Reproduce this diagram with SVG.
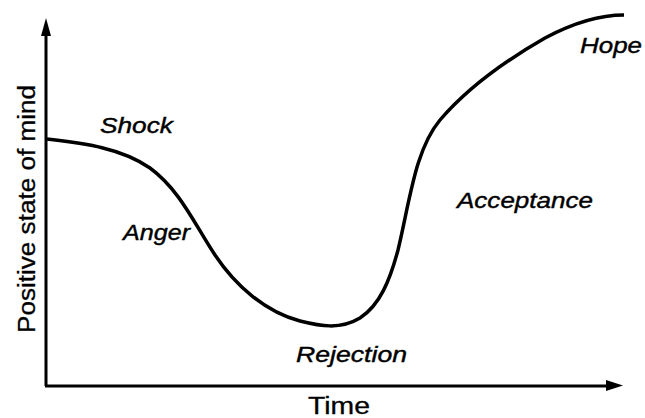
<svg xmlns="http://www.w3.org/2000/svg" width="645" height="418" viewBox="0 0 645 418">
<style>
.lbl{font-family:"Liberation Sans",Arial,sans-serif;font-style:italic;fill:#000;stroke:#000;stroke-width:0.4;font-size:22px}
.ax{font-family:"Liberation Sans",Arial,sans-serif;fill:#000;stroke:#000;stroke-width:0.3;font-size:23px}
</style>
<rect width="645" height="418" fill="#fff"/>
<g id="connectors">
<path d="M46,386 V32" stroke="#000" stroke-width="3" fill="none"/>
<path d="M46,18 L51,36 L41,36 Z" fill="#000"/>
<path d="M45,386 H608" stroke="#000" stroke-width="3" fill="none"/>
<path d="M623,385.5 L606,380 L606,391 Z" fill="#000"/>
<path id="curve" d="M47,139 C80,143 120,147 150,168 C180,190 195,225 215,255 C235,285 265,312 300,321 C320,326 340,330 360,318 C380,305 390,280 398,250 C410,200 415,150 440,120 C470,85 510,58 545,38 C575,22 600,15 624,15" stroke="#000" stroke-width="3.5" fill="none"/>
</g>
<g id="axis-y"><text class="ax" transform="translate(35,333) rotate(-90)" textLength="248" lengthAdjust="spacingAndGlyphs">Positive state of mind</text></g>
<g id="axis-x"><text class="ax" x="308" y="414" textLength="62" lengthAdjust="spacingAndGlyphs">Time</text></g>
<g id="shock"><text class="lbl" x="100" y="133" textLength="73" lengthAdjust="spacingAndGlyphs">Shock</text></g>
<g id="anger"><text class="lbl" x="123" y="240" textLength="67" lengthAdjust="spacingAndGlyphs">Anger</text></g>
<g id="rejection"><text class="lbl" x="296" y="362" textLength="111" lengthAdjust="spacingAndGlyphs">Rejection</text></g>
<g id="acceptance"><text class="lbl" x="457" y="208" textLength="136" lengthAdjust="spacingAndGlyphs">Acceptance</text></g>
<g id="hope"><text class="lbl" x="580" y="53" textLength="62" lengthAdjust="spacingAndGlyphs">Hope</text></g>
</svg>
